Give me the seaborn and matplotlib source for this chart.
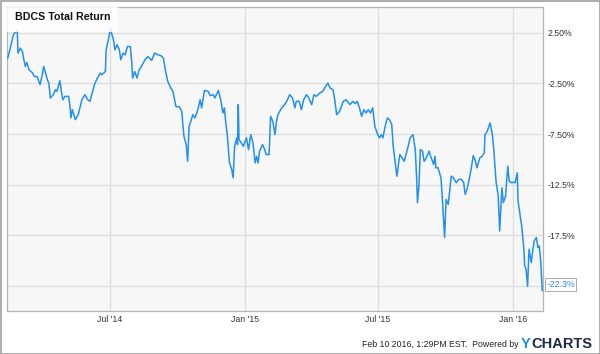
import matplotlib
matplotlib.use("Agg")
import matplotlib.pyplot as plt
import matplotlib.patches as mpatches
import pandas as pd
import seaborn as sns

title = "BDCS Total Return"
dates = [
    "2014-02-12", "2014-02-16", "2014-02-19", "2014-02-21", "2014-02-25", "2014-02-26",
    "2014-03-01", "2014-03-04", "2014-03-06", "2014-03-08", "2014-03-10", "2014-03-13",
    "2014-03-18", "2014-03-20", "2014-03-24", "2014-03-28", "2014-03-31", "2014-04-02",
    "2014-04-07", "2014-04-09", "2014-04-11", "2014-04-15", "2014-04-18", "2014-04-20",
    "2014-04-24", "2014-04-26", "2014-04-28", "2014-05-01", "2014-05-06", "2014-05-08",
    "2014-05-09", "2014-05-11", "2014-05-15", "2014-05-19", "2014-05-24", "2014-05-28",
    "2014-06-01", "2014-06-04", "2014-06-07", "2014-06-10", "2014-06-13", "2014-06-18",
    "2014-06-20", "2014-06-25", "2014-06-26", "2014-06-29", "2014-07-02", "2014-07-04",
    "2014-07-06", "2014-07-08", "2014-07-11", "2014-07-14", "2014-07-16", "2014-07-19",
    "2014-07-22", "2014-07-25", "2014-07-29", "2014-07-31", "2014-08-01", "2014-08-04",
    "2014-08-07", "2014-08-10", "2014-08-13", "2014-08-18", "2014-08-22", "2014-08-27",
    "2014-08-31", "2014-09-05", "2014-09-09", "2014-09-12", "2014-09-15", "2014-09-18",
    "2014-09-22", "2014-09-25", "2014-09-29", "2014-10-04", "2014-10-07", "2014-10-10",
    "2014-10-13", "2014-10-15", "2014-10-17", "2014-10-20", "2014-10-22", "2014-10-25",
    "2014-10-29", "2014-11-01", "2014-11-03", "2014-11-07", "2014-11-12", "2014-11-15",
    "2014-11-19", "2014-11-21", "2014-11-26", "2014-11-29", "2014-12-02", "2014-12-04",
    "2014-12-06", "2014-12-08", "2014-12-11", "2014-12-14", "2014-12-16", "2014-12-18",
    "2014-12-21", "2014-12-22", "2014-12-23", "2014-12-24", "2014-12-27", "2014-12-30",
    "2015-01-03", "2015-01-06", "2015-01-09", "2015-01-12", "2015-01-15", "2015-01-17",
    "2015-01-19", "2015-01-21", "2015-01-25", "2015-01-28", "2015-01-30", "2015-02-03",
    "2015-02-05", "2015-02-08", "2015-02-11", "2015-02-13", "2015-02-15", "2015-02-20",
    "2015-02-24", "2015-02-27", "2015-03-03", "2015-03-07", "2015-03-10", "2015-03-12",
    "2015-03-16", "2015-03-19", "2015-03-22", "2015-03-26", "2015-03-29", "2015-04-02",
    "2015-04-05", "2015-04-08", "2015-04-13", "2015-04-17", "2015-04-21", "2015-04-24",
    "2015-04-27", "2015-05-01", "2015-05-03", "2015-05-06", "2015-05-08", "2015-05-10",
    "2015-05-15", "2015-05-19", "2015-05-24", "2015-05-28", "2015-05-31", "2015-06-03",
    "2015-06-06", "2015-06-09", "2015-06-12", "2015-06-15", "2015-06-18", "2015-06-21",
    "2015-06-24", "2015-06-27", "2015-06-30", "2015-07-03", "2015-07-06", "2015-07-08",
    "2015-07-11", "2015-07-14", "2015-07-17", "2015-07-20", "2015-07-22", "2015-07-25",
    "2015-07-27", "2015-07-31", "2015-08-03", "2015-08-06", "2015-08-09", "2015-08-12",
    "2015-08-14", "2015-08-18", "2015-08-21", "2015-08-23", "2015-08-24", "2015-08-26",
    "2015-08-28", "2015-08-31", "2015-09-02", "2015-09-04", "2015-09-09", "2015-09-11",
    "2015-09-15", "2015-09-17", "2015-09-18", "2015-09-21", "2015-09-25", "2015-09-27",
    "2015-09-30", "2015-10-02", "2015-10-05", "2015-10-09", "2015-10-12", "2015-10-16",
    "2015-10-19", "2015-10-23", "2015-10-26", "2015-10-28", "2015-10-31", "2015-11-02",
    "2015-11-05", "2015-11-08", "2015-11-11", "2015-11-13", "2015-11-17", "2015-11-20",
    "2015-11-23", "2015-11-24", "2015-11-27", "2015-12-01", "2015-12-04", "2015-12-06",
    "2015-12-09", "2015-12-12", "2015-12-14", "2015-12-17", "2015-12-19", "2015-12-22",
    "2015-12-25", "2015-12-27", "2015-12-30", "2016-01-02", "2016-01-04", "2016-01-07",
    "2016-01-08", "2016-01-11", "2016-01-13", "2016-01-16", "2016-01-17", "2016-01-19",
    "2016-01-21", "2016-01-23", "2016-01-26", "2016-01-28", "2016-01-30", "2016-02-02",
    "2016-02-04", "2016-02-06", "2016-02-08", "2016-02-10",
]
returns = [
    0.0, 1.15, 2.14, 2.47, 2.7, 0.5,
    0.99, 0.66, -0.16, -0.82, -0.43, -1.15,
    -1.47, -1.81, -1.81, -2.63, -1.64, -0.82,
    -2.13, -2.46, -3.94, -3.61, -3.12, -3.28,
    -2.23, -3.28, -4.11, -3.78, -3.78, -4.92,
    -5.91, -5.09, -6.08, -5.59, -4.11, -3.61,
    -4.11, -4.27, -3.45, -2.63, -2.13, -1.47,
    -1.64, -1.32, 0.82, 1.81, 2.96, 2.30,
    1.81, 0.82, 1.32, 0.82, -0.16, 0.5,
    0.33, 1.15, 1.15, -0.49, -1.97, -1.32,
    -1.97, -1.15, -0.82, -0.16, 0.16, -0.23,
    0.5, 0.33, 0.23, 0.01, -1.32, -2.3,
    -2.95, -3.28, -4.77, -4.83, -5.26, -7.72,
    -8.54, -10.19, -6.74, -6.08, -5.59, -5.91,
    -5.09, -4.11, -4.92, -3.19, -3.28, -3.71,
    -3.61, -3.94, -3.19, -4.11, -5.42, -4.92,
    -6.4, -7.56, -10.35, -11.01, -11.83, -8.71,
    -7.88, -8.54, -4.6, -8.05, -8.38, -8.71,
    -7.88, -9.04, -7.56, -8.38, -10.35, -9.7,
    -10.35, -9.2, -8.54, -9.04, -9.53, -9.53,
    -5.75, -6.25, -7.56, -6.25, -5.59, -4.92,
    -4.6, -4.27, -3.61, -3.94, -4.92, -4.27,
    -4.27, -5.09, -4.11, -3.61, -3.94, -4.6,
    -3.61, -3.78, -3.45, -3.28, -2.79, -2.46,
    -2.95, -3.12, -3.94, -5.59, -5.42, -5.26,
    -4.27, -4.11, -4.6, -4.27, -4.5, -4.27,
    -4.92, -5.75, -5.09, -5.42, -5.09, -5.42,
    -4.92, -6.74, -7.39, -7.88, -7.56, -7.88,
    -6.74, -5.91, -6.08, -6.57, -8.71, -10.51,
    -11.67, -9.53, -9.85, -10.19, -9.36, -8.54,
    -7.88, -7.56, -9.04, -11.99, -14.29, -12.65,
    -9.04, -9.2, -10.19, -10.02, -9.2, -9.7,
    -10.51, -9.7, -10.84, -10.84, -11.83, -13.97,
    -17.74, -13.97, -14.46, -11.67, -11.83, -12.32,
    -11.99, -11.99, -12.32, -13.47, -12.81, -12.16,
    -11.01, -9.63, -10.19, -10.84, -9.85, -9.7,
    -9.36, -7.56, -7.23, -6.4, -7.56, -9.04,
    -12.16, -13.64, -17.09, -12.81, -14.29, -13.64,
    -10.68, -12.16, -12.32, -12.26, -12.32, -11.33,
    -14.13, -15.61, -16.6, -18.9, -20.54, -20.87,
    -22.57, -18.9, -20.21, -19.06, -18.08, -17.74,
    -18.73, -18.57, -20.21, -23.0,
]
x_ticks = ["2014-07-01", "2015-01-01", "2015-07-01", "2016-01-01"]
x_tick_labels = ["Jul '14", "Jan '15", "Jul '15", "Jan '16"]
y_ticks = [2.5, -2.5, -7.5, -12.5, -17.5, -22.5]
y_tick_labels = ["2.50%", "-2.50%", "-7.50%", "-12.5%", "-17.5%", ""]
last_label = "-22.3%"
last_label_value = -22.4
footer = "Feb 10 2016, 1:29PM EST.  Powered by"

df = pd.DataFrame({"date": pd.to_datetime(dates), "ret": returns})

sns.set_style("white")
plt.rcParams["font.family"] = ["Liberation Sans", "DejaVu Sans"]

W, H = 600, 354
fig = plt.figure(figsize=(6.0, 3.54), dpi=100)
fig.patch.set_facecolor("white")
ax = fig.add_axes([7 / W, 43 / H, 536 / W, 304 / H])
ax.set_facecolor("#f7f7f7")

line_color = "#2290f0"
sns.lineplot(data=df, x="date", y="ret", ax=ax, color=line_color, linewidth=1.1, zorder=3)

ax.set_xlim(pd.Timestamp("2014-02-11"), pd.Timestamp("2016-02-10") + pd.Timedelta(days=1))
ax.set_ylim(-25.0, 5.06)

ax.set_xticks(pd.to_datetime(x_ticks))
ax.set_xticklabels(x_tick_labels)
ax.set_yticks(y_ticks)
ax.set_yticklabels(y_tick_labels)
ax.yaxis.tick_right()
ax.tick_params(axis="y", length=0, pad=3, labelsize=6.3, labelcolor="#333333")
ax.tick_params(axis="x", length=0, pad=2.8, labelsize=6.3, labelcolor="#333333")
ax.set_xlabel("")
ax.set_ylabel("")
ax.grid(True, color="#dddddd", linewidth=0.9, zorder=0)
ax.set_axisbelow(True)
for s in ax.spines.values():
    s.set_color("#b5b5b5")
    s.set_linewidth(0.9)

# title box
ax.add_patch(mpatches.Rectangle((0, 1 - 25 / 304), 111 / 536, 25 / 304,
                                transform=ax.transAxes, facecolor="white",
                                alpha=0.85, edgecolor="none", zorder=4))
ax.text(8 / 536, (311 - 19.5) / 304, title, transform=ax.transAxes,
        fontsize=7.7, fontweight="bold", color="#111111", ha="left",
        va="baseline", zorder=5)

# last value label
ax.annotate(last_label, xy=(df["date"].iloc[-1], last_label_value),
            xytext=(3.5, 0), textcoords="offset points", ha="left", va="center",
            fontsize=6.3, color=line_color, annotation_clip=False,
            bbox=dict(boxstyle="square,pad=0.2", facecolor="white",
                      edgecolor="#aaaaaa", linewidth=0.7), zorder=6)

# footer
fig.text(518 / W, 1 - 347 / H, footer, fontsize=6.3, color="#222222",
         ha="right", va="baseline")
fig.text(521 / W, 1 - 347.5 / H, "Y", fontsize=10.5, fontweight="bold",
         color="#1e8fe6", ha="left", va="baseline")
fig.text(531 / W, 1 - 347.5 / H, "CHARTS", fontsize=10.5, fontweight="bold",
         color="#1b2b48", ha="left", va="baseline")

# outer border
fig.add_artist(mpatches.Rectangle((0.5 / W, 0.5 / H), 1 - 1 / W, 1 - 1 / H,
                                  transform=fig.transFigure, fill=False,
                                  edgecolor="#a0a0a0", linewidth=1.2))

fig.savefig("out.png", dpi=100)
